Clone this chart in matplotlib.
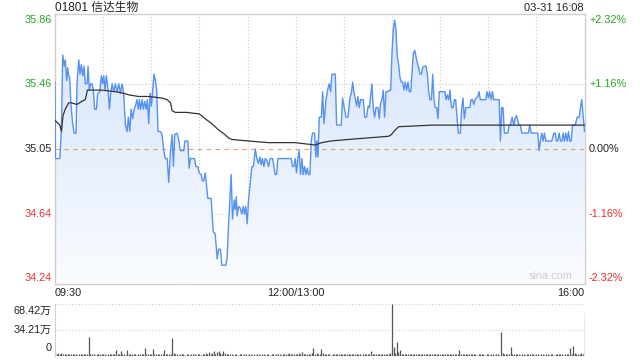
import numpy as np
import matplotlib
matplotlib.use("Agg")
import matplotlib.pyplot as plt
from matplotlib.colors import LinearSegmentedColormap

plt.rcParams['font.family'] = ['Liberation Sans', 'Noto Sans CJK SC', 'DejaVu Sans']

# ---- data ----
title = "01801 信达生物"
stamp = "03-31 16:08"
prev_close = 35.05
price_ticks = [35.86, 35.46, 35.05, 34.64, 34.24]
pct_labels = ["+2.32%", "+1.16%", "0.00%", "-1.16%", "-2.32%"]
time_labels = ["09:30", "12:00/13:00", "16:00"]
vol_ticks = [0, 34.21, 68.42]
vol_labels = ["0", "34.21万", "68.42万"]

# minute since 09:30 (lunch removed), price
price_pts = [
    (0, 35.47), (0.3, 34.99), (3, 34.99), (4, 35.17), (4.8, 35.64), (5.8, 35.57), (6.4, 35.61),
    (7.3, 35.48), (7.9, 35.56), (8.5, 35.51), (9.1, 35.50), (10, 35.32), (11, 35.21), (11.9, 35.15),
    (13.1, 35.15), (13.7, 35.46), (14.8, 35.61), (15.6, 35.52), (16.4, 35.58), (17.3, 35.51),
    (18.1, 35.57), (18.9, 35.46), (20, 35.46), (20.6, 35.57), (21.4, 35.42), (22.2, 35.46),
    (23.1, 35.46), (23.9, 35.42), (24.7, 35.30), (25.8, 35.30), (26.6, 35.40), (27.9, 35.41),
    (28.9, 35.51), (29.7, 35.46), (30.4, 35.51), (31.2, 35.42), (32, 35.51), (33.1, 35.42),
    (33.9, 35.30), (34.7, 35.40), (35.6, 35.46), (36.6, 35.41), (37.6, 35.46), (38.7, 35.41),
    (39.7, 35.46), (40.8, 35.40), (41.8, 35.46), (42.8, 35.40), (43.9, 35.20), (44.9, 35.16),
    (45.7, 35.25), (46.6, 35.16), (47.4, 35.30), (48.4, 35.24), (49.3, 35.30), (50.1, 35.32),
    (51.1, 35.36), (52, 35.30), (52.6, 35.36), (53.4, 35.30), (54.3, 35.36), (55.1, 35.30),
    (55.9, 35.35), (56.8, 35.30), (57.6, 35.36), (58.4, 35.21), (59.3, 35.40), (60.1, 35.32),
    (60.9, 35.42), (61.7, 35.52), (62.6, 35.48), (63.4, 35.42), (64.2, 35.16), (65.7, 35.16),
    (66.7, 35.14), (67.8, 35.04), (68.8, 34.99), (69.9, 34.99), (70.9, 34.84), (72, 35.04),
    (73, 35.14), (73.8, 34.94), (74.6, 35.14), (75.9, 35.15), (77.1, 35.11), (78, 35.04),
    (80.3, 35.04), (80.9, 35.10), (82.8, 35.10), (83.6, 34.93), (84.4, 34.99), (86.9, 34.99),
    (87.8, 34.94), (89, 34.94), (89.8, 34.90), (91.1, 34.89), (91.9, 34.85), (92.7, 34.85),
    (93.6, 34.90), (94.4, 34.83), (95.2, 34.74), (97.3, 34.74), (98.6, 34.53), (99.8, 34.52),
    (101.1, 34.36), (101.9, 34.42), (103.1, 34.42), (104, 34.32), (106.5, 34.32), (107.3, 34.37),
    (108.1, 34.56), (109, 34.73), (109.8, 34.89), (110.6, 34.61), (111.7, 34.73), (112.3, 34.67),
    (113, 34.75), (113.5, 34.63), (114.4, 34.69), (115.4, 34.68), (116.4, 34.64), (117.3, 34.69),
    (118.1, 34.64), (118.9, 34.69), (119.8, 34.58), (120.6, 34.73), (121.9, 34.86), (122.7, 34.94),
    (123.7, 34.94), (124.8, 35.05), (125.8, 34.99), (126.8, 34.96), (127.7, 35.00), (128.5, 34.95),
    (129.3, 34.99), (130.2, 34.94), (131, 34.99), (132, 34.98), (133.1, 34.94), (134.1, 34.99),
    (135.6, 34.99), (136.4, 34.94), (137.2, 34.89), (138.1, 34.89), (138.9, 34.99), (147.2, 34.99),
    (148, 34.94), (148.9, 34.94), (149.7, 34.99), (150.5, 34.90), (151.4, 34.99), (152.2, 35.04),
    (153, 34.89), (153.9, 34.99), (154.7, 34.89), (155.5, 34.94), (156.4, 34.89), (157.2, 34.93),
    (158, 34.89), (158.9, 34.89), (159.7, 35.10), (160.5, 35.15), (161.8, 35.15), (162.6, 35.00),
    (163.2, 35.10), (163.9, 35.00), (164.7, 35.25), (166, 35.25), (166.8, 35.41), (167.6, 35.21),
    (168.9, 35.36), (170.1, 35.43), (170.9, 35.46), (171.8, 35.41), (172.6, 35.52), (174.7, 35.52),
    (175.5, 35.20), (178.4, 35.20), (179.2, 35.37), (180.1, 35.32), (181.3, 35.25), (182.6, 35.25),
    (183.8, 35.37), (184.7, 35.40), (185.5, 35.47), (186.3, 35.41), (187.1, 35.37), (188, 35.32),
    (188.8, 35.38), (189.6, 35.31), (190.5, 35.36), (192.1, 35.36), (193, 35.25), (194.2, 35.25),
    (195.1, 35.32), (195.9, 35.31), (196.7, 35.38), (197.5, 35.46), (198.4, 35.30), (199.2, 35.25),
    (200, 35.31), (201.3, 35.31), (202.1, 35.24), (202.9, 35.34), (203.8, 35.36), (204.6, 35.42),
    (205.4, 35.25), (206.3, 35.41), (207.5, 35.41), (208.4, 35.42), (209.2, 35.42), (210, 35.65),
    (210.8, 35.80), (211.7, 35.86), (212.5, 35.80), (213.3, 35.63), (214.2, 35.58), (215, 35.50),
    (215.8, 35.47), (216.7, 35.47), (217.5, 35.42), (218.3, 35.47), (219.2, 35.42), (220, 35.47),
    (220.8, 35.41), (221.7, 35.41), (222.5, 35.53), (223.3, 35.65), (224.2, 35.67), (225, 35.63),
    (225.8, 35.59), (226.7, 35.56), (227.5, 35.52), (228.3, 35.52), (229.1, 35.56), (230, 35.57),
    (231.2, 35.57), (232.1, 35.52), (232.9, 35.41), (233.7, 35.36), (234.6, 35.36), (235.4, 35.52),
    (236.2, 35.36), (237, 35.31), (237.9, 35.31), (238.7, 35.24), (239.5, 35.41), (243, 35.41),
    (243.7, 35.36), (244.5, 35.39), (245.4, 35.36), (246.2, 35.42), (246.6, 35.36), (247.2, 35.31),
    (248.1, 35.31), (248.9, 35.36), (249.7, 35.36), (250.6, 35.24), (251.4, 35.15), (252.6, 35.15),
    (253.5, 35.31), (254.3, 35.37), (255.1, 35.24), (256, 35.31), (258.5, 35.31), (259.3, 35.36),
    (260.1, 35.36), (261, 35.33), (261.8, 35.36), (262.6, 35.37), (263.5, 35.38), (264.3, 35.41),
    (265.1, 35.36), (268.4, 35.36), (269.3, 35.41), (270.1, 35.37), (270.9, 35.41), (271.8, 35.36),
    (272.6, 35.41), (273.4, 35.36), (276.8, 35.36), (277.6, 35.10), (278.4, 35.31), (279.2, 35.31),
    (280.1, 35.15), (282.2, 35.15), (283, 35.20), (283.8, 35.20), (284.9, 35.25), (285.9, 35.20),
    (286.7, 35.24), (287.6, 35.26), (288.4, 35.23), (289.2, 35.20), (290.1, 35.20), (290.9, 35.15),
    (295, 35.15), (295.9, 35.20), (296.7, 35.15), (300.9, 35.15), (301.7, 35.04), (302.5, 35.10),
    (303.4, 35.15), (304.2, 35.10), (305, 35.15), (305.9, 35.10), (309.6, 35.10), (310.9, 35.15),
    (311.7, 35.15), (312.5, 35.10), (313.3, 35.10), (314.2, 35.15), (315, 35.10), (315.9, 35.10),
    (316.7, 35.15), (317.5, 35.10), (318.3, 35.15), (319.2, 35.10), (320, 35.16), (320.8, 35.10),
    (321.7, 35.10), (322.5, 35.20), (324.2, 35.20), (325.4, 35.25), (326.7, 35.25), (327.5, 35.31),
    (328.3, 35.36), (329.2, 35.25), (330, 35.16),
]

avg_pts = [
    (0, 35.23), (3, 35.20), (4, 35.16), (5, 35.26), (6.4, 35.30), (8.5, 35.34), (10, 35.34),
    (13.7, 35.33), (16.8, 35.35), (18.9, 35.36), (20.2, 35.42), (29, 35.42), (37.6, 35.41),
    (42.8, 35.40), (46, 35.39), (52, 35.38), (58.4, 35.38), (66.7, 35.37), (69.9, 35.36),
    (72, 35.34), (73, 35.29), (75, 35.28), (82, 35.28), (90, 35.27), (93.6, 35.24), (97.7, 35.21),
    (101.9, 35.17), (106, 35.14), (108.1, 35.12), (110.2, 35.11), (120.6, 35.10), (133, 35.09),
    (149.7, 35.09), (158, 35.08), (162, 35.075), (166.4, 35.09), (171.6, 35.10), (183, 35.11),
    (195.5, 35.12), (208, 35.13), (209.6, 35.14), (212.1, 35.17), (214.2, 35.19), (235, 35.20),
    (330, 35.20),
]

# volume per minute, in 万 shares
volume = [
    5, 3, 4, 2, 4, 3, 2, 3, 2, 3, 2, 2, 3, 2, 1, 2, 3, 2, 2, 2, 3, 25, 3, 2, 2, 1, 2, 2, 3, 2,
    2, 2, 1, 2, 3, 2, 2, 3, 8, 2, 3, 7, 2, 2, 1, 8, 2, 2, 2, 3, 2, 1, 2, 2, 3, 2, 10, 2, 3, 2,
    3, 9, 2, 2, 3, 2, 2, 2, 8, 2, 2, 2, 3, 24, 4, 2, 2, 1, 2, 2, 2, 1, 2, 2, 1, 2, 2, 2, 1, 2,
    2, 1, 3, 2, 4, 2, 5, 3, 4, 6, 3, 5, 7, 4, 3, 6, 4, 2, 3, 2, 2, 1, 2, 2, 1, 2, 2, 1, 2, 2,
    1, 2, 2, 1, 2, 1, 2, 2, 1, 2, 2, 1, 2, 2, 1, 2, 2, 1, 2, 3, 2, 1, 2, 2, 3, 2, 4, 2, 3, 2,
    3, 2, 4, 2, 5, 3, 2, 3, 2, 2, 4, 11, 3, 4, 2, 3, 9, 4, 2, 3, 2, 2, 1, 2, 3, 2, 2, 3, 2, 2,
    2, 3, 2, 2, 3, 2, 2, 2, 3, 2, 2, 1, 2, 2, 3, 2, 3, 7, 3, 2, 2, 3, 2, 2, 3, 2, 2, 3, 2, 4,
    68, 12, 4, 19, 5, 8, 3, 3, 2, 2, 3, 2, 2, 3, 2, 2, 3, 2, 3, 2, 2, 3, 2, 2, 3, 2, 2, 3, 2, 2,
    3, 2, 2, 3, 2, 2, 3, 2, 2, 3, 2, 2, 8, 2, 3, 2, 2, 3, 2, 2, 3, 2, 2, 1, 2, 3, 2, 2, 1, 2,
    2, 1, 2, 2, 1, 2, 2, 1, 32, 4, 3, 2, 2, 3, 12, 2, 2, 3, 2, 2, 1, 2, 2, 1, 2, 2, 3, 2, 2, 1,
    2, 2, 1, 2, 2, 1, 2, 2, 1, 2, 2, 1, 2, 2, 3, 2, 2, 1, 2, 3, 2, 11, 3, 13, 4, 3, 2, 3, 4, 3, 56,
]

t, p = zip(*price_pts)
at, ap = zip(*avg_pts)

W, H = 640, 360
fig = plt.figure(figsize=(6.4, 3.6), dpi=100)

def fx(px):
    return px / W

def fy(py):
    return 1 - py / H

ylo, yhi = 34.202, 35.898
ax = fig.add_axes([fx(55), fy(284), fx(584.5) - fx(55), fy(14) - fy(284)])
ax.set_xlim(0, 330)
ax.set_ylim(ylo, yhi)

# gradient fill under price
poly = ax.fill_between(t, p, ylo, facecolor='none', edgecolor='none')
grad = np.linspace(0, 1, 256).reshape(-1, 1)
cmap = LinearSegmentedColormap.from_list('g', ['#fafcff', '#d3e2fa'])
im = ax.imshow(grad, extent=[0, 330, ylo, yhi], origin='lower', aspect='auto',
               cmap=cmap, zorder=1)
im.set_clip_path(poly.get_paths()[0], ax.transData)

for m in range(30, 330, 30):
    ax.axvline(m, color='#cccccc', lw=0.8, ls=(0, (1, 2)), zorder=0)
for v in [35.46, 34.64]:
    ax.axhline(v, color='#cccccc', lw=0.8, ls=(0, (1, 2)), zorder=0)
ax.axhline(prev_close, color='#ec9a6e', lw=0.8, ls=(0, (4, 4)), zorder=2)

ax.plot(t, p, color='#5592f2', lw=1.0, zorder=3)
ax.plot(at, ap, color='#333333', lw=0.9, zorder=4)

ax.set_xticks([])
ax.set_yticks([])
for s in ax.spines.values():
    s.set_color('#cfcfcf')
    s.set_linewidth(1.0)

# price / percent labels
colors = ['#22a822', '#22a822', '#222222', '#e8302a', '#e8302a']
for v, lab, c in zip(price_ticks, pct_labels, colors):
    py = 14 + (yhi - v) / (yhi - ylo) * 270
    fig.text(fx(52), fy(py), f"{v:.2f}", ha='right', va='center', fontsize=7.8, color=c)
    fig.text(fx(589), fy(py), lab, ha='left', va='center', fontsize=7.8, color=c)

fig.text(fx(55), fy(8), title, ha='left', va='center', fontsize=8.5, color='#222222')
fig.text(fx(584), fy(8), stamp, ha='right', va='center', fontsize=8, color='#222222')

fig.text(fx(55), fy(293), time_labels[0], ha='left', va='center', fontsize=7.8, color='#222222')
fig.text(fx(295.5), fy(293), time_labels[1], ha='center', va='center', fontsize=7.8, color='#222222')
fig.text(fx(584), fy(293), time_labels[2], ha='right', va='center', fontsize=7.8, color='#222222')

ax.text(0.978, 0.012, "sina.com", transform=ax.transAxes, ha='right', va='bottom',
        fontsize=7.8, color='#cccccc')

# volume panel
vx = fig.add_axes([fx(55), fy(356), fx(584.5) - fx(55), fy(304) - fy(356)])
vx.set_xlim(0, 330)
vx.set_ylim(0, 68.42)
vx.vlines(np.arange(len(volume)), 0, volume, color='#555555', lw=0.9)
for v in [34.21, 68.42]:
    vx.axhline(v, color='#cccccc', lw=0.8, ls=(0, (1, 2)), zorder=0)
vx.set_xticks([])
vx.set_yticks([])
for k in ['top', 'right', 'bottom']:
    vx.spines[k].set_visible(False)
vx.spines['left'].set_color('#cfcfcf')

fig.text(fx(52), fy(311), vol_labels[2], ha='right', va='center', fontsize=7.8, color='#222222')
fig.text(fx(52), fy(330), vol_labels[1], ha='right', va='center', fontsize=7.8, color='#222222')
fig.text(fx(52), fy(348), vol_labels[0], ha='right', va='center', fontsize=7.8, color='#222222')

fig.savefig("out.png", dpi=100)
